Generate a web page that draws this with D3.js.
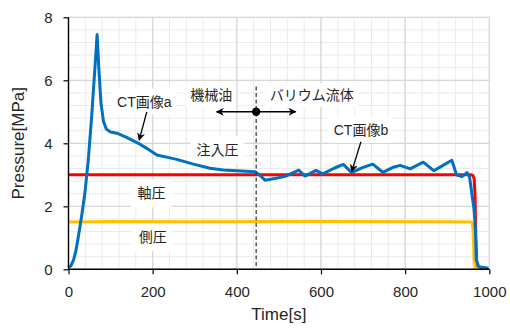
<!DOCTYPE html>
<html lang="ja">
<head>
<meta charset="UTF-8">
<title>Pressure vs Time</title>
<script src="https://d3js.org/d3.v7.min.js"></script>
<style>
  body { margin: 0; background: #fff; }
  svg text { font-family: "Liberation Sans", Arial, "Noto Sans CJK JP", sans-serif; fill: #262626; }
</style>
</head>
<body>
<script>
// data: [time s, pressure MPa]
const injection = [
  [0,0.05],[6,0.12],[12,0.3],[17,0.55],[23,1.0],[31,1.67],[39,2.42],[47,3.47],[55,4.85],
  [63,6.43],[68,7.45],[72,6.4],[77,5.3],[83,4.7],[90,4.45],[100,4.36],[115,4.32],[138,4.19],
  [166,4.0],[186,3.84],[210,3.63],[233,3.56],[257,3.49],[297,3.34],[336,3.21],[368,3.15],
  [400,3.13],[443,3.1],[452,3.02],[467,2.83],[490,2.88],[515,2.95],[547,3.15],[562,2.96],
  [588,3.14],[604,3.03],[630,3.2],[653,3.33],[673,3.07],[697,3.22],[723,3.34],[747,3.08],
  [770,3.23],[788,3.3],[812,3.19],[843,3.4],[868,3.13],[885,3.26],[911,3.46],[922,3.0],
  [935,2.94],[947,3.07],[953,2.94],[959,2.36],[964,1.88],[967,1.25],[969,0.3],[975,0.08],[998,0.03]
];
const axial = [
  [0,3.0],[300,3.0],[600,3.0],[956,3.0],[961,2.98],[964,2.88],[966,2.4],[968,1.0],[970,0.2],[973,0.03],[985,0.02]
];
const confining = [
  [0,1.5],[60,1.51],[90,1.52],[300,1.51],[600,1.52],[900,1.51],[957,1.5],[960,1.46],[962,1.1],[964,0.3],[967,0.03],[978,0.02]
];
const xTicks = [0, 200, 400, 600, 800, 1000];
const yTicks = [0, 2, 4, 6, 8];

const W = 510, H = 331;
const x = d3.scaleLinear().domain([0, 1000]).range([68.5, 489.3]);
const y = d3.scaleLinear().domain([0, 8]).range([269.3, 17.3]);

const svg = d3.select('body').append('svg').attr('width', W).attr('height', H);

// grid: minor then major
const grid = svg.append('g');
grid.selectAll('.vmin').data(d3.range(0, 1001, 40)).enter().append('line')
  .attr('x1', d => x(d)).attr('x2', d => x(d)).attr('y1', y(0)).attr('y2', y(8))
  .attr('stroke', '#ebebeb').attr('stroke-width', 1);
grid.selectAll('.hmin').data(d3.range(0, 8.01, 0.4)).enter().append('line')
  .attr('x1', x(0)).attr('x2', x(1000)).attr('y1', d => y(d)).attr('y2', d => y(d))
  .attr('stroke', '#ebebeb').attr('stroke-width', 1);
grid.selectAll('.vmaj').data(xTicks).enter().append('line')
  .attr('x1', d => x(d)).attr('x2', d => x(d)).attr('y1', y(0)).attr('y2', y(8))
  .attr('stroke', '#d6d6d6').attr('stroke-width', 1.2);
grid.selectAll('.hmaj').data(yTicks).enter().append('line')
  .attr('x1', x(0)).attr('x2', x(1000)).attr('y1', d => y(d)).attr('y2', d => y(d))
  .attr('stroke', '#d6d6d6').attr('stroke-width', 1.2);

// annotation helper: text with a white box behind it
function label(txt, t, v, pad) {
  const g = svg.append('g');
  const tx = g.append('text').attr('x', x(t)).attr('y', y(v)).attr('dy', '0.35em')
    .attr('text-anchor', 'middle').style('font-size', '14px').text(txt);
  const b = tx.node().getBBox();
  g.insert('rect', 'text').attr('x', b.x - pad).attr('y', b.y - pad)
    .attr('width', b.width + 2 * pad).attr('height', b.height + 2 * pad).attr('fill', '#fff');
}
label('CT画像a', 180, 5.32, 5);
label('注入圧', 354, 3.77, 6);
label('軸圧', 197, 2.41, 6);
label('側圧', 200, 1.02, 6);
label('機械油', 339, 5.53, 4);
label('バリウム流体', 578, 5.53, 4);
label('CT画像b', 695, 4.42, 5);

// curves
const line = d3.line().x(d => x(d[0])).y(d => y(d[1]));
svg.append('path').datum(axial).attr('d', line).attr('fill', 'none')
  .attr('stroke', '#ff0000').attr('stroke-width', 3).attr('stroke-linejoin', 'round');
svg.append('path').datum(confining).attr('d', line).attr('fill', 'none')
  .attr('stroke', '#ffc000').attr('stroke-width', 3).attr('stroke-linejoin', 'round');
svg.append('path').datum(injection).attr('d', line).attr('fill', 'none')
  .attr('stroke', '#0070c0').attr('stroke-width', 3).attr('stroke-linejoin', 'round');

// arrow markers
const defs = svg.append('defs');
defs.append('marker').attr('id', 'ah').attr('viewBox', '0 0 10 10')
  .attr('refX', 9).attr('refY', 5).attr('markerWidth', 8).attr('markerHeight', 8)
  .attr('markerUnits', 'userSpaceOnUse').attr('orient', 'auto-start-reverse')
  .append('path').attr('d', 'M0,0 L10,5 L0,10 L3,5 Z').attr('fill', '#000');

// fluid switch marker
const tSwitch = 446;
svg.append('line').attr('x1', x(tSwitch)).attr('x2', x(tSwitch)).attr('y1', y(5.8)).attr('y2', y(0))
  .attr('stroke', '#404040').attr('stroke-width', 1.3).attr('stroke-dasharray', '4,2.5');
svg.append('line').attr('x1', x(352)).attr('x2', x(540)).attr('y1', y(5)).attr('y2', y(5))
  .attr('stroke', '#000').attr('stroke-width', 1.5)
  .attr('marker-start', 'url(#ah)').attr('marker-end', 'url(#ah)');
svg.append('circle').attr('cx', x(tSwitch)).attr('cy', y(5)).attr('r', 4.2).attr('fill', '#000');

// CT image arrows
svg.append('line').attr('x1', x(186)).attr('y1', y(5.0)).attr('x2', x(168)).attr('y2', y(4.1))
  .attr('stroke', '#000').attr('stroke-width', 1.3).attr('marker-end', 'url(#ah)');
svg.append('line').attr('x1', x(695)).attr('y1', y(4.05)).attr('x2', x(673)).attr('y2', y(3.1))
  .attr('stroke', '#000').attr('stroke-width', 1.3).attr('marker-end', 'url(#ah)');

// axes
const xAxis = svg.append('g').attr('transform', `translate(0,${y(0)})`)
  .call(d3.axisBottom(x).tickValues(xTicks).tickFormat(d3.format('d')).tickSize(5).tickPadding(12));
const yAxis = svg.append('g').attr('transform', `translate(${x(0)},0)`)
  .call(d3.axisLeft(y).tickValues(yTicks).tickFormat(d3.format('d')).tickSize(5).tickPadding(11));
[xAxis, yAxis].forEach(a => {
  a.select('.domain').attr('stroke', '#000').attr('stroke-width', 1.4);
  a.selectAll('.tick line').attr('stroke', '#000').attr('stroke-width', 1.2);
  a.selectAll('.tick text').style('font-size', '15px').attr('fill', '#262626')
    .style('font-family', '"Liberation Sans", Arial, sans-serif');
});
// axis domain paths include outer ticks; drop them
xAxis.select('.domain').attr('d', `M${x(0)},0H${x(1000)}`);
yAxis.select('.domain').attr('d', `M0,${y(0)}V${y(8)}`);

// titles
svg.append('text').attr('x', x(500)).attr('y', 320).attr('text-anchor', 'middle')
  .style('font-size', '17px').text('Time[s]');
svg.append('text').attr('transform', `translate(24,${y(4)}) rotate(-90)`)
  .attr('text-anchor', 'middle').style('font-size', '17px').text('Pressure[MPa]');
</script>
</body>
</html>
